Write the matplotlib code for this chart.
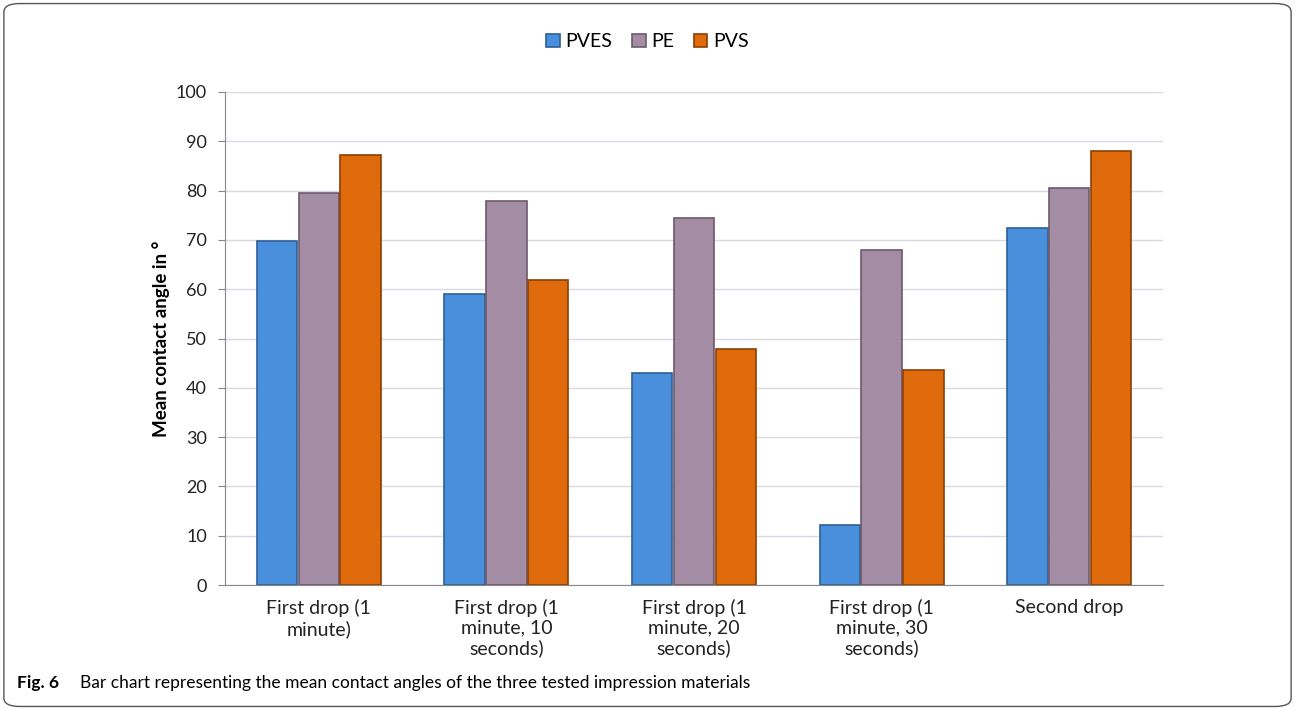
import numpy as np
import matplotlib.pyplot as plt
from matplotlib.patches import FancyBboxPatch

plt.rcParams['font.family'] = ['Lato', 'DejaVu Sans']

categories = ["First drop (1\nminute)", "First drop (1\nminute, 10\nseconds)",
              "First drop (1\nminute, 20\nseconds)", "First drop (1\nminute, 30\nseconds)",
              "Second drop"]
series = ["PVES", "PE", "PVS"]
pves = [69.8, 59.0, 43.0, 12.2, 72.4]
pe = [79.5, 77.9, 74.5, 67.9, 80.5]
pvs = [87.2, 61.8, 47.9, 43.6, 88.1]
colors = ["#4a8fdc", "#a48ca4", "#df6b0c"]
edges = ["#2f5f96", "#6b5a6b", "#8a4004"]

fig = plt.figure(figsize=(12.95, 7.10), dpi=100)
# axes box: x 225..1163 px, y 92..585 px
ax = fig.add_axes([225 / 1295, 1 - 585 / 710, 938 / 1295, 493 / 710])

x = np.arange(len(categories))
w = 0.215
for i, (vals, c, ec, name) in enumerate(zip([pves, pe, pvs], colors, edges, series)):
    ax.bar(x + (i - 1) * (w + 0.008), vals, w, color=c, edgecolor=ec, linewidth=1.2,
           label=name, zorder=3)

ax.set_xlim(-0.5, len(categories) - 0.5)
ax.set_ylim(0, 100)
ax.set_yticks(np.arange(0, 101, 10))
ax.set_xticks(x)
ax.set_xticklabels(categories, fontsize=14, color='#222222')
ax.tick_params(axis='y', labelsize=13, length=5, color='#888888', pad=8, labelcolor='#222222')
ax.tick_params(axis='x', length=0, pad=10)
ax.grid(axis='y', color='#d9d9e6', linewidth=1, zorder=0)
for s in ['top', 'right']:
    ax.spines[s].set_visible(False)
ax.spines['left'].set_color('#888888')
ax.spines['bottom'].set_color('#888888')
ax.set_ylabel("Mean contact angle in °", fontsize=13.5, fontweight='bold', labelpad=4)

fig.legend(loc='upper center', bbox_to_anchor=(0.5, 0.978), ncol=3, frameon=False,
           fontsize=14, handlelength=0.7, handleheight=0.7, columnspacing=1.0, handletextpad=0.3)

frame = FancyBboxPatch((0.003, 0.005), 0.994, 0.99, boxstyle="round,pad=0,rounding_size=0.012",
                       transform=fig.transFigure, fill=False, edgecolor='#555555', linewidth=1)
fig.patches.append(frame)
fig.text(0.013, 0.038, "Fig. 6", fontsize=12.5, fontweight='bold', va='center')
fig.text(0.062, 0.038, "Bar chart representing the mean contact angles of the three tested impression materials",
         fontsize=12.5, va='center')

fig.savefig("out.png", dpi=100)
